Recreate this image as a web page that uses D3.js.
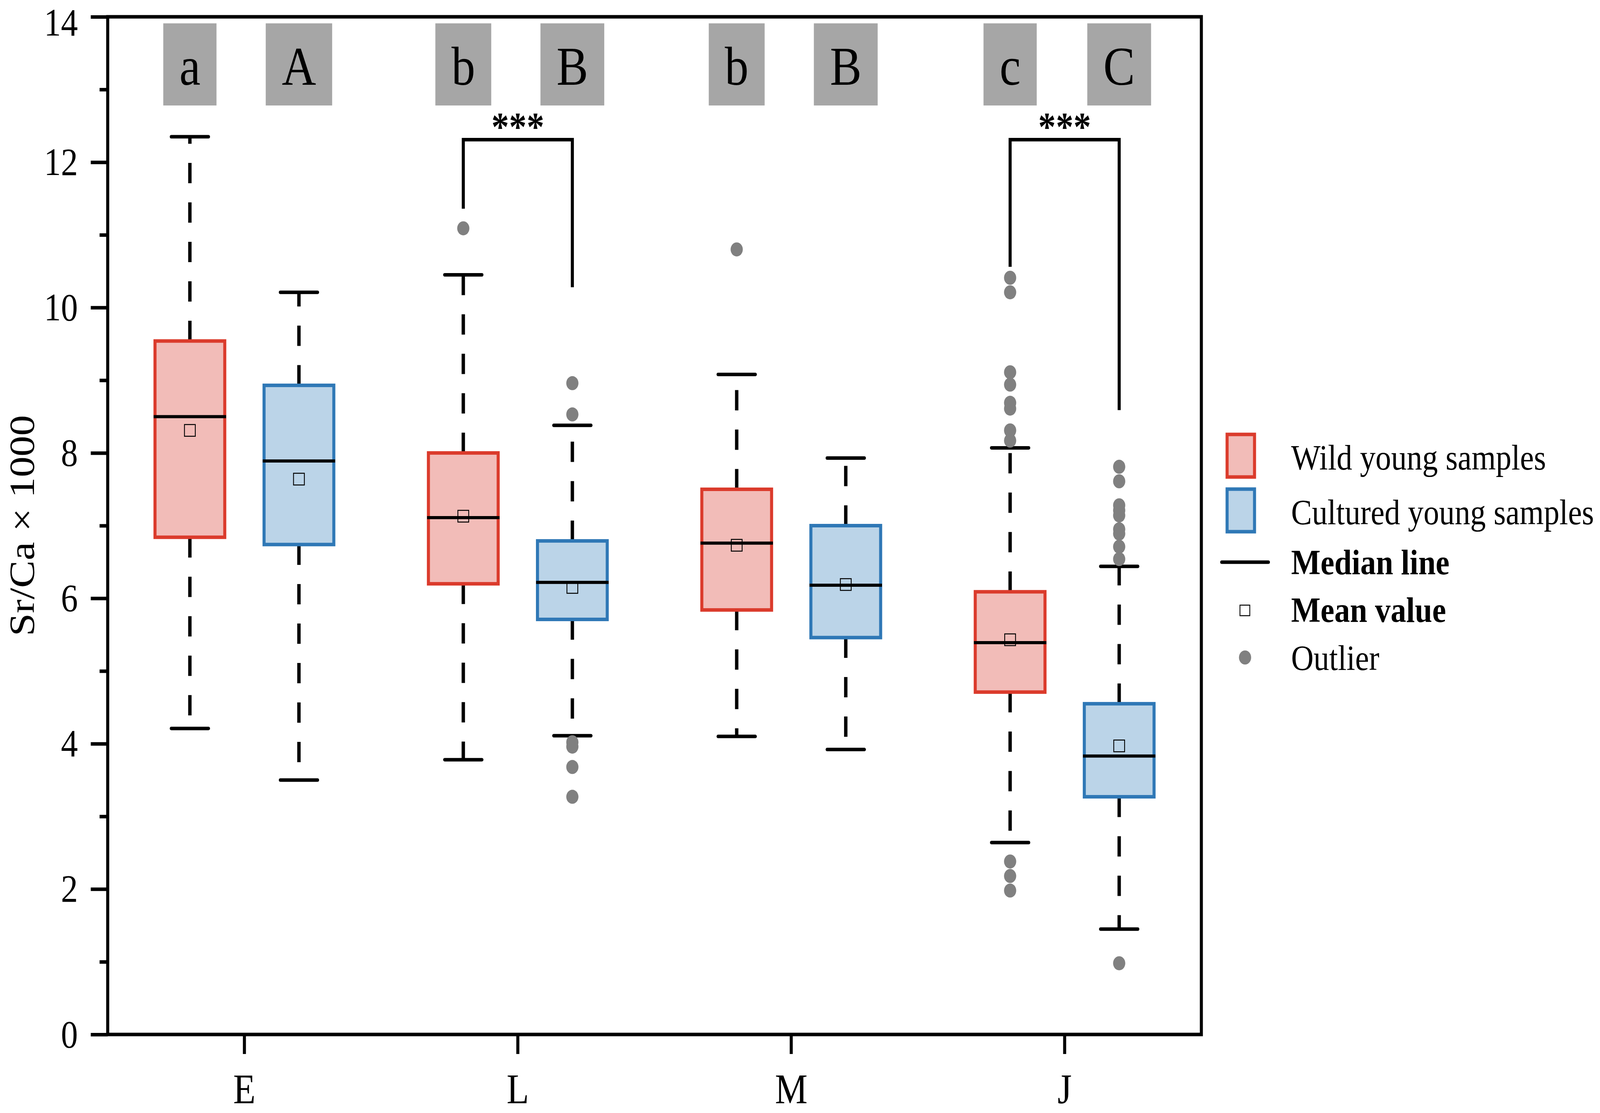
<!DOCTYPE html>
<html>
<head>
<meta charset="utf-8">
<script src="https://cdn.jsdelivr.net/npm/d3@7"></script>
<style>
  html, body { margin: 0; padding: 0; background: #fff; overflow: hidden; }
  svg { display: block; font-family: "Liberation Serif", "Times New Roman", serif; }
</style>
</head>
<body>
<div id="vis"></div>
<script>
const FRAME_WIDTH = 4724;
const FRAME_HEIGHT = 2849;
const PLOT = {left: 318, right: 3547, top: 43, bottom: 2648};

// categories and groups
const categories = ["E", "L", "M", "J"];
const groups = ["Wild young samples", "Cultured young samples"];

// wild young samples: whisker ends, quartiles, median, mean
const wildLow    = [4.21, 3.78, 4.10, 2.64];
const wildQ1     = [6.84, 6.20, 5.84, 4.71];
const wildMedian = [8.50, 7.11, 6.76, 5.39];
const wildQ3     = [9.54, 8.00, 7.50, 6.09];
const wildHigh   = [12.35, 10.45, 9.08, 8.07];
const wildMean   = [8.31, 7.13, 6.73, 5.43];
const wildOutliers = [[], [11.09], [10.80],
  [10.41, 10.21, 9.11, 8.94, 8.69, 8.61, 8.31, 8.17, 2.38, 2.18, 1.98]];

// cultured young samples
const cultLow    = [3.50, 4.11, 3.92, 1.45];
const cultQ1     = [6.74, 5.71, 5.46, 3.27];
const cultMedian = [7.89, 6.22, 6.18, 3.83];
const cultQ3     = [8.93, 6.79, 7.00, 4.55];
const cultHigh   = [10.21, 8.38, 7.93, 6.44];
const cultMean   = [7.64, 6.15, 6.19, 3.97];
const cultOutliers = [[], [8.96, 8.53, 4.02, 3.96, 3.68, 3.27], [],
  [7.81, 7.61, 7.28, 7.21, 7.14, 6.95, 6.89, 6.71, 6.54, 0.98]];

// significance letters
const wildLetters = ["a", "b", "b", "c"];
const cultLetters = ["A", "B", "B", "C"];
const letterBoxTop = 13.91;
const letterBoxBottom = 12.78;

// significance brackets
const bracketCats = ["L", "J"];
const bracketTop = [12.31, 12.31];
const bracketLeftEnd = [11.36, 10.56];
const bracketRightEnd = [10.28, 8.59];
const bracketLabel = "***";

// ticks
const yMajorTicks = [0, 2, 4, 6, 8, 10, 12, 14];
const yMinorTicks = [1, 3, 5, 7, 9, 11, 13];

const COLORS = {
  wild: {stroke: "#db3b2c", fill: "#f2bcb8"},
  cult: {stroke: "#2f78b6", fill: "#bbd4e8"},
  outlier: "#808080",
  letterBox: "#a6a6a6"
};

// the browser viewport can be narrower than the requested frame,
// so draw in frame units and let the viewBox fit it to the window
const svg = d3.select("#vis").append("svg")
  .attr("width", window.innerWidth || FRAME_WIDTH)
  .attr("height", window.innerHeight || FRAME_HEIGHT)
  .attr("viewBox", `0 0 ${FRAME_WIDTH} ${FRAME_HEIGHT}`)
  .attr("preserveAspectRatio", "none");

svg.append("rect").attr("width", FRAME_WIDTH).attr("height", FRAME_HEIGHT).attr("fill", "#fff");

const Y_SCALE = d3.scaleLinear().domain([0, 14]).range([PLOT.bottom, PLOT.top]);
const X_SCALE = d3.scaleBand().domain(categories).range([PLOT.left, PLOT.right]).padding(0);
const X_SUB = d3.scalePoint().domain(groups).range([-161, 161]);

const BOX_W = 206;
const CAP_W = 110;

// build rows for each box
const series = [
  {group: groups[0], col: COLORS.wild, low: wildLow, q1: wildQ1, med: wildMedian, q3: wildQ3,
   high: wildHigh, mean: wildMean, out: wildOutliers, letters: wildLetters},
  {group: groups[1], col: COLORS.cult, low: cultLow, q1: cultQ1, med: cultMedian, q3: cultQ3,
   high: cultHigh, mean: cultMean, out: cultOutliers, letters: cultLetters}
];
const rows = [];
series.forEach(s => {
  categories.forEach((c, i) => {
    rows.push({cat: c, group: s.group, col: s.col, low: s.low[i], q1: s.q1[i], med: s.med[i],
      q3: s.q3[i], high: s.high[i], mean: s.mean[i], out: s.out[i], letter: s.letters[i],
      cx: X_SCALE(c) + X_SCALE.bandwidth() / 2 + X_SUB(s.group)});
  });
});

const marks = svg.append("g");

// whiskers (dashed, from box edge outward)
marks.selectAll(".whiskerUp").data(rows).enter().append("line")
  .attr("x1", d => d.cx).attr("x2", d => d.cx)
  .attr("y1", d => Y_SCALE(d.q3)).attr("y2", d => Y_SCALE(d.high))
  .attr("stroke", "#000").attr("stroke-width", 10).attr("stroke-dasharray", "52,49");
marks.selectAll(".whiskerDown").data(rows).enter().append("line")
  .attr("x1", d => d.cx).attr("x2", d => d.cx)
  .attr("y1", d => Y_SCALE(d.q1)).attr("y2", d => Y_SCALE(d.low))
  .attr("stroke", "#000").attr("stroke-width", 10).attr("stroke-dasharray", "52,49");

// whisker caps
["high", "low"].forEach(k => {
  marks.selectAll(".cap-" + k).data(rows).enter().append("line")
    .attr("x1", d => d.cx - CAP_W / 2).attr("x2", d => d.cx + CAP_W / 2)
    .attr("y1", d => Y_SCALE(d[k])).attr("y2", d => Y_SCALE(d[k]))
    .attr("stroke", "#000").attr("stroke-width", 9).attr("stroke-linecap", "round");
});

// boxes
marks.selectAll(".box").data(rows).enter().append("rect")
  .attr("x", d => d.cx - BOX_W / 2)
  .attr("width", BOX_W)
  .attr("y", d => Y_SCALE(d.q3))
  .attr("height", d => Y_SCALE(d.q1) - Y_SCALE(d.q3))
  .attr("fill", d => d.col.fill)
  .attr("stroke", d => d.col.stroke)
  .attr("stroke-width", 9);

// medians
marks.selectAll(".median").data(rows).enter().append("line")
  .attr("x1", d => d.cx - BOX_W / 2 - 4).attr("x2", d => d.cx + BOX_W / 2 + 4)
  .attr("y1", d => Y_SCALE(d.med)).attr("y2", d => Y_SCALE(d.med))
  .attr("stroke", "#000").attr("stroke-width", 8);

// means
marks.selectAll(".mean").data(rows).enter().append("rect")
  .attr("x", d => d.cx - 16).attr("y", d => Y_SCALE(d.mean) - 15)
  .attr("width", 32).attr("height", 30)
  .attr("fill", "none").attr("stroke", "#000").attr("stroke-width", 2.5);

// outliers
const outPts = [];
rows.forEach(r => r.out.forEach(v => outPts.push({cx: r.cx, v: v})));
marks.selectAll(".outlier").data(outPts).enter().append("circle")
  .attr("cx", d => d.cx).attr("cy", d => Y_SCALE(d.v)).attr("r", 18)
  .attr("fill", COLORS.outlier);

// significance brackets
const brackets = bracketCats.map((c, i) => {
  const base = X_SCALE(c) + X_SCALE.bandwidth() / 2;
  return {x1: base + X_SUB(groups[0]), x2: base + X_SUB(groups[1]),
          top: bracketTop[i], l: bracketLeftEnd[i], r: bracketRightEnd[i]};
});
marks.selectAll(".bracket").data(brackets).enter().append("path")
  .attr("d", d => `M${d.x1},${Y_SCALE(d.l)}V${Y_SCALE(d.top)}H${d.x2}V${Y_SCALE(d.r)}`)
  .attr("fill", "none").attr("stroke", "#000").attr("stroke-width", 9);
marks.selectAll(".stars").data(brackets).enter().append("text")
  .attr("x", d => (d.x1 + d.x2) / 2).attr("y", d => Y_SCALE(d.top) + 2)
  .attr("text-anchor", "middle").attr("font-size", 104).attr("font-weight", "bold")
  .text(bracketLabel);

// letter boxes
const letterG = marks.selectAll(".letter").data(rows).enter().append("g");
letterG.append("rect").attr("fill", COLORS.letterBox);
letterG.append("text")
  .attr("x", d => d.cx).attr("y", Y_SCALE(letterBoxBottom) - 53)
  .attr("text-anchor", "middle").attr("font-size", 140).text(d => d.letter);
letterG.each(function (d) {
  const g = d3.select(this);
  const w = g.select("text").node().getComputedTextLength() + 95;
  g.select("rect").attr("x", d.cx - w / 2).attr("width", w)
    .attr("y", Y_SCALE(letterBoxTop)).attr("height", Y_SCALE(letterBoxBottom) - Y_SCALE(letterBoxTop));
});

// y axis
const yAxis = svg.append("g").attr("transform", `translate(${PLOT.left},0)`)
  .call(d3.axisLeft(Y_SCALE).tickValues(yMajorTicks).tickSize(50).tickPadding(38).tickFormat(d3.format("d")));
yAxis.selectAll("text").attr("font-size", 100).attr("font-family", "Liberation Serif").attr("fill", "#000")
  .attr("dy", d => d === 14 ? "0.47em" : "0.32em");
const yMinor = svg.append("g").attr("transform", `translate(${PLOT.left},0)`)
  .call(d3.axisLeft(Y_SCALE).tickValues(yMinorTicks).tickSize(24).tickFormat(""));
[yAxis, yMinor].forEach(a => {
  a.select(".domain").remove();
  a.selectAll("line").attr("stroke", "#000").attr("stroke-width", 9);
});

// x axis
const xAxis = svg.append("g").attr("transform", `translate(0,${PLOT.bottom})`)
  .call(d3.axisBottom(X_SCALE).tickSize(50));
xAxis.select(".domain").remove();
xAxis.selectAll("line").attr("stroke", "#000").attr("stroke-width", 9);
xAxis.selectAll("text").attr("font-size", 108).attr("font-family", "Liberation Serif")
  .attr("fill", "#000").attr("dy", null).attr("y", 176);

// frame
svg.append("rect")
  .attr("x", PLOT.left).attr("y", PLOT.top)
  .attr("width", PLOT.right - PLOT.left).attr("height", PLOT.bottom - PLOT.top)
  .attr("fill", "none").attr("stroke", "#000").attr("stroke-width", 9);

// y axis title
svg.append("text")
  .attr("transform", `translate(100,${(PLOT.top + PLOT.bottom) / 2}) rotate(-90)`)
  .attr("text-anchor", "middle").attr("font-size", 106).text("Sr/Ca \u00d7 1000");

// legend
const LEG_X = 3812;
const legend = svg.append("g");
const legendItems = [
  {label: groups[0], kind: "box", col: COLORS.wild, base: 1202, bold: false},
  {label: groups[1], kind: "box", col: COLORS.cult, base: 1342, bold: false},
  {label: "Median line", kind: "median", base: 1470, bold: true},
  {label: "Mean value", kind: "mean", base: 1592, bold: true},
  {label: "Outlier", kind: "outlier", base: 1715, bold: false}
];
legendItems.forEach(it => {
  if (it.kind === "box") {
    legend.append("rect").attr("x", 3623).attr("y", it.base - 90).attr("width", 81).attr("height", 109)
      .attr("fill", it.col.fill).attr("stroke", it.col.stroke).attr("stroke-width", 9);
  } else if (it.kind === "median") {
    legend.append("line").attr("x1", 3607).attr("x2", 3745).attr("y1", it.base - 31).attr("y2", it.base - 31)
      .attr("stroke", "#000").attr("stroke-width", 9).attr("stroke-linecap", "round");
  } else if (it.kind === "mean") {
    legend.append("rect").attr("x", 3661).attr("y", it.base - 43).attr("width", 29).attr("height", 27)
      .attr("fill", "none").attr("stroke", "#000").attr("stroke-width", 2.5);
  } else {
    legend.append("circle").attr("cx", 3676).attr("cy", it.base - 32).attr("r", 18).attr("fill", COLORS.outlier);
  }
  legend.append("text").attr("x", LEG_X).attr("y", it.base)
    .attr("font-size", 92).attr("font-weight", it.bold ? "bold" : "normal").text(it.label);
});
</script>
</body>
</html>
